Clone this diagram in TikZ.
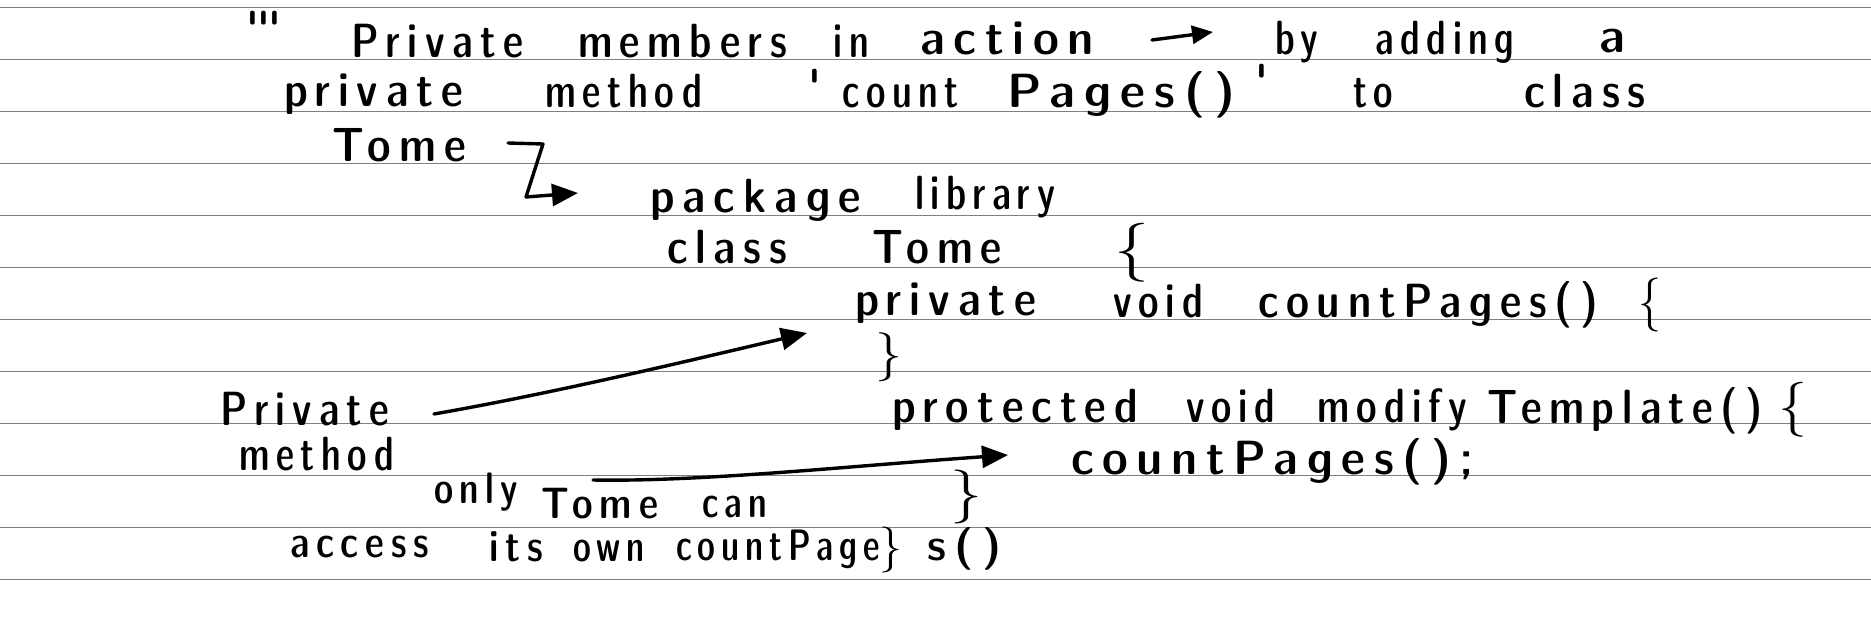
\documentclass[tikz,border=0pt]{standalone}
\usepackage{fontspec}
\usepackage{graphicx}
\usetikzlibrary{arrows.meta}
\newfontfamily\handfont{lmsansdemicond10-regular.otf}[LetterSpace=16]
\definecolor{ruling}{RGB}{128,128,128}
% a word scaled horizontally towards a given width (within limits)
\newsavebox\hwbox
\newlength\hwnat
\newcommand\hw[2]{%
  \sbox\hwbox{#2}\hwnat=\wd\hwbox
  \pgfmathsetmacro\hwr{max(0.85,min(1.18,#1/\hwnat))}%
  \scalebox{\hwr}[1]{\usebox\hwbox}}
% a tall brace, given width and total height
\newcommand\hbr[3]{\resizebox*{#1pt}{#2pt}{#3}}
\tikzset{
  word/.style={inner sep=0pt, outer sep=0pt, anchor=base,
               font=\handfont\fontsize{48}{52}\selectfont},
  note/.style={word, font=\handfont\fontsize{44}{48}\selectfont},
  brc/.style={inner sep=0pt, outer sep=0pt, anchor=north west,
              font=\handfont\fontsize{48}{52}\selectfont},
  pen/.style={line width=3.4pt, line cap=round, line join=round},
  tip/.style={-{Triangle[length=26pt,width=22pt]}},
  smalltip/.style={-{Triangle[length=21pt,width=18pt]}},
}
\begin{document}
\begin{tikzpicture}[x=1pt,y=-1pt]
\useasboundingbox (0,0) rectangle (1871,631);
\fill[white] (0,0) rectangle (1871,631);
% ruled paper
\foreach \k in {0,...,11}
  \draw[ruling, line width=1.3pt] (0,{7.3+52*\k}) -- (1871,{7.3+52*\k});

% first line
\node[word] (q0)  at (264,46)    {\hw{32}{\textquotesingle\textquotesingle\textquotesingle}};
\node[word] (w1)  at (437,58)    {\hw{172}{Private}};
\node[word] (w2)  at (682.5,58)  {\hw{209}{members}};
\node[word] (w3)  at (851.5,58)  {\hw{35}{in}};
\node[word] (w4)  at (1007,55)   {\hw{174}{action}};
\coordinate (t0) at (1152,40);
\coordinate (t1) at (1213,32);
\node[word] (w5)  at (1297,55)   {\hw{32}{by}};
\node[word] (w6)  at (1445,55)   {\hw{134}{adding}};
\node[word] (w7)  at (1612.5,53) {\hw{27}{a}};

% second line
\node[word] (w8)  at (373.5,107) {\hw{179}{private}};
\node[word] (w9)  at (623.5,108) {\hw{157}{method}};
\node[word] (q1)  at (815,104)   {\hw{6}{\textquotesingle}};
\node[word] (w10) at (900.5,108) {\hw{109}{count}};
\node[word] (w11) at (1121.5,108){\hw{243}{Pages()}};
\node[word] (q2)  at (1262,99)   {\hw{8}{\textquotesingle}};
\node[word] (w12) at (1373,108)  {\hw{40}{to}};
\node[word] (w13) at (1585,108)  {\hw{122}{class}};

% third line
\node[word] (w14) at (399,162)   {\hw{134}{Tome}};
\coordinate (e0) at (508,143);
\coordinate (e1) at (543,144);
\coordinate (e2) at (526,197);
\coordinate (e3) at (578,193);

% the class
\node[word] (c1)  at (755.5,213) {\hw{211}{package}};
\node[word] (c2)  at (985,210)   {\hw{140}{library}};
\node[word] (c3)  at (727,263)   {\hw{120}{class}};
\node[word] (c4)  at (937,263)   {\hw{130}{Tome}};
\node[brc]  (b1)  at (1114,223)  {\hbr{35}{59}{\{}};

\node[word] (c5)  at (945.5,315) {\hw{181}{private}};
\node[word] (c6)  at (1158,317)  {\hw{90}{void}};
\node[word] (c7)  at (1428,317)  {\hw{340}{countPages()}};
\node[brc]  (b2)  at (1638,278)  {\hbr{23}{54}{\{}};
\node[brc]  (b3)  at (875,333)   {\hbr{27}{49}{\}}};

\node[word] (c8)  at (1015,422)  {\hw{246}{protected}};
\node[word] (c9)  at (1230.5,422){\hw{89}{void}};
\node[word] (c10) at (1392,422)  {\hw{150}{modify}};
\node[word] (c11) at (1625,423)  {\hw{276}{Template()}};
\node[brc]  (b4)  at (1778,382)  {\hbr{29}{55}{\{}};

\node[word] (c12) at (1272.5,474){\hw{403}{countPages();}};
\node[brc]  (b5)  at (950,470)   {\hbr{32}{54}{\}}};

% side note
\node[word] (n1)  at (304.5,425) {\hw{169}{Private}};
\node[word] (n2)  at (317,470)   {\hw{144}{method}};
\coordinate (a0) at (434,414);
\coordinate (a1) at (807,333);

\node[note] (n3)  at (476,503)   {\hw{84}{only}};
\node[note] (n4)  at (599.5,518) {\hw{117}{Tome}};
\node[note] (n5)  at (734.5,517) {\hw{65}{can}};
\node[note] (n6)  at (359.5,557) {\hw{139}{access}};
\node[note] (n7)  at (516,561)   {\hw{54}{its}};
\node[note] (n8)  at (609,561)   {\hw{62}{own}};
\node[note] (n9)  at (778,560)   {\hw{199}{countPage}};
\node[brc]  (b6)  at (879,527)   {\hbr{23}{46}{\}}};
\node[note] (n10) at (964.5,560) {\hw{79}{s()}};
\coordinate (d0) at (593,480);
\coordinate (d1) at (1008,455);

% pen strokes
\draw[pen,smalltip] (t0) -- (t1);
\draw[pen,tip] (e0) -- (e1) -- (e2) -- (e3);
\draw[pen,tip] (a0) .. controls (560,392) and (700,358) .. (a1);
\draw[pen,tip] (d0) .. controls (700,482) and (850,466) .. (d1);
\end{tikzpicture}
\end{document}
